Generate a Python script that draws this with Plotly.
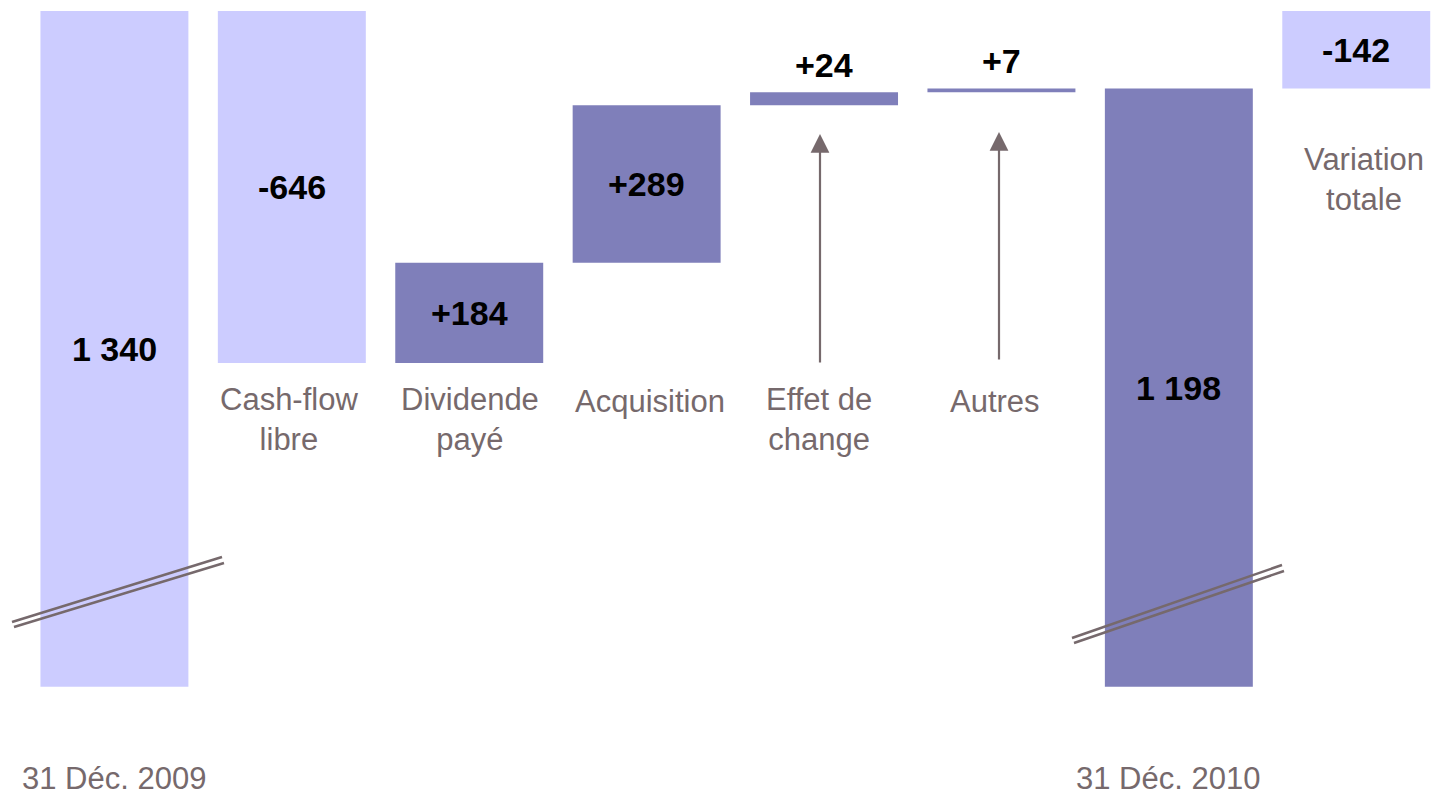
import plotly.graph_objects as go

# net debt bridge (EUR m)
categories = ["31 Déc. 2009", "Cash-flow<br>libre", "Dividende<br>payé", "Acquisition",
              "Effet de<br>change", "Autres", "31 Déc. 2010", "Variation<br>totale"]
opening = 1340
movements = [-646, 184, 289, 24, 7]
closing = 1198
total_change = -142
value_labels = ["1 340", "-646", "+184", "+289", "+24", "+7", "1 198", "-142"]

LIGHT = "#CCCCFF"
DARK = "#7F7FBA"
GREY = "#76696C"
FONT = "Liberation Sans, Arial, sans-serif"
W, H = 1432, 796
BREAK_BASE = 100  # broken axis: totals start here

# bars: base + height, built from the running total
bases, heights, colors = [BREAK_BASE], [opening - BREAK_BASE], [LIGHT]
run = opening
for m in movements:
    bases.append(min(run, run + m))
    heights.append(abs(m))
    colors.append(DARK if m > 0 else LIGHT)
    run += m
bases.append(BREAK_BASE)
heights.append(closing - BREAK_BASE)
colors.append(DARK)
bases.append(min(closing, closing - total_change))
heights.append(abs(total_change))
colors.append(LIGHT if total_change < 0 else DARK)

xs = list(range(len(categories)))

fig = go.Figure(go.Bar(x=xs, y=heights, base=bases, width=0.834,
                       marker=dict(color=colors, line_width=0),
                       hoverinfo="skip"))


def px(x, y):
    return x / W, 1 - y / H


annotations = []
# value labels: inside the bar unless the bar is too thin
for i, (b, h, t) in enumerate(zip(bases, heights, value_labels)):
    if h > 60:
        annotations.append(dict(x=i, y=b + h / 2, text=t, showarrow=False,
                                xref="x", yref="y", yanchor="middle",
                                font=dict(size=34, color="black", family=FONT, weight="bold")))
    else:
        annotations.append(dict(x=i, y=b + h, text=t, showarrow=False,
                                xref="x", yref="y", yanchor="bottom", yshift=6,
                                font=dict(size=34, color="black", family=FONT, weight="bold")))

# category labels
label_pos = [(114, 778), (289, 420), (470, 420), (650, 401),
             (819, 420), (995, 401), (1168, 778), (1364, 180)]
for txt, (lx, ly) in zip(categories, label_pos):
    xp, yp = px(lx, ly)
    annotations.append(dict(x=xp, y=yp, xref="paper", yref="paper", text=txt,
                            showarrow=False, xanchor="center", yanchor="middle",
                            font=dict(size=31, color=GREY, family=FONT)))

# arrows pointing to the small movements
for ax_x, tip_y, tail_y in [(820, 134, 364), (999, 132, 361)]:
    xp, yp = px(ax_x, tip_y)
    annotations.append(dict(x=xp, y=yp, xref="paper", yref="paper", text="",
                            showarrow=True, ax=0, ay=tail_y - tip_y,
                            arrowhead=2, arrowsize=1.7, arrowwidth=2.2, arrowcolor=GREY))

# axis break marks
shapes = []
for (x0, y0, x1, y1) in [(12, 622, 222, 557), (14, 627, 224, 563),
                         (1072, 638, 1282, 565), (1074, 643, 1284, 571)]:
    a, b = px(x0, y0)
    c, d = px(x1, y1)
    shapes.append(dict(type="line", xref="paper", yref="paper", x0=a, y0=b, x1=c, y1=d,
                       line=dict(color=GREY, width=2.5)))

fig.update_layout(width=W, height=H, margin=dict(l=0, r=0, t=0, b=0),
                  plot_bgcolor="white", paper_bgcolor="white", showlegend=False,
                  annotations=annotations, shapes=shapes)
fig.update_xaxes(range=[-0.645, 7.427], visible=False)
fig.update_yaxes(range=[-100.4, 1360.2], visible=False)

# drop the default page margin so the figure sits at the window origin
fig.write_html("out.html", config={"displayModeBar": False},
               post_script="document.body.style.margin='0';document.body.style.overflow='hidden';")
